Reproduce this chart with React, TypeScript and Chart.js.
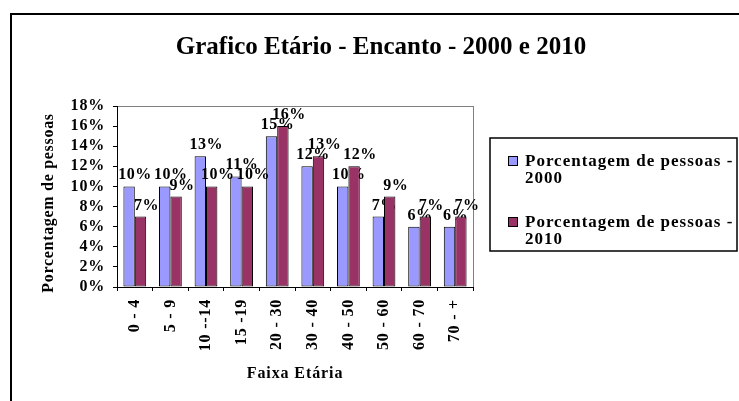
import React, { useEffect, useRef } from 'react';
import { Chart, registerables } from 'chart.js';

Chart.register(...registerables);

const titleText = 'Grafico Etário - Encanto - 2000 e 2010';
const xAxisTitle = 'Faixa Etária';
const yAxisTitle = 'Porcentagem de pessoas';
const categories = ['0 - 4', '5 - 9', '10 --14', '15 -19', '20 - 30', '30 - 40', '40 - 50', '50 - 60', '60 - 70', '70 - +'];
const seriesNames = ['Porcentagem de pessoas - 2000', 'Porcentagem de pessoas - 2010'];
const legendLines = [['Porcentagem de pessoas -', '2000'], ['Porcentagem de pessoas -', '2010']];
const values2000 = [10, 10, 13, 11, 15, 12, 10, 7, 6, 6];
const values2010 = [7, 9, 10, 10, 16, 13, 12, 9, 7, 7];
const yMin = 0;
const yMax = 18;
const yStep = 2;
const colors = ['#9999FF', '#993366'];

const FONT = '"Liberation Serif", "Times New Roman", serif';

function drawLabels(chart: any, idx: number) {
  const ctx = chart.ctx;
  const meta = chart.getDatasetMeta(idx);
  const data = chart.data.datasets[idx].data as number[];
  ctx.save();
  ctx.font = `bold 16px ${FONT}`;
  (ctx as any).letterSpacing = '0.5px';
  ctx.fillStyle = '#000';
  ctx.textAlign = 'center';
  ctx.textBaseline = 'alphabetic';
  meta.data.forEach((el: any, j: number) => {
    ctx.fillText(`${data[j]}%`, el.x + 6, el.y - 7);
  });
  ctx.restore();
}

const decor = {
  id: 'decor',
  beforeDraw(chart: any) {
    const { ctx, chartArea: a } = chart;
    ctx.save();
    ctx.fillStyle = '#fff';
    ctx.fillRect(0, 0, chart.width, chart.height);
    ctx.strokeStyle = '#000';
    ctx.lineWidth = 2;
    ctx.strokeRect(11, 14, chart.width + 20, chart.height + 20);
    ctx.strokeStyle = '#808080';
    ctx.lineWidth = 1;
    ctx.strokeRect(a.left + 0.5, a.top + 0.5, a.right - a.left, a.bottom - a.top);
    ctx.fillStyle = '#000';
    ctx.font = `bold 25px ${FONT}`;
    ctx.textAlign = 'center';
    ctx.textBaseline = 'alphabetic';
    ctx.fillText(titleText, 381, 54);
    ctx.font = `bold 16px ${FONT}`;
    (ctx as any).letterSpacing = '0.9px';
    ctx.fillText(xAxisTitle, (a.left + a.right) / 2, 378);
    ctx.translate(53, 203);
    ctx.rotate(-Math.PI / 2);
    (ctx as any).letterSpacing = '0.7px';
    ctx.fillText(yAxisTitle, 0, 0);
    ctx.restore();
    (ctx as any).letterSpacing = '0.8px';
  },
  beforeDatasetsDraw(chart: any) {
    drawLabels(chart, 0);
  },
  afterDatasetsDraw(chart: any) {
    drawLabels(chart, 1);
  },
  afterDraw(chart: any) {
    const ctx = chart.ctx;
    ctx.save();
    (ctx as any).letterSpacing = '0px';
    ctx.strokeStyle = '#000';
    ctx.lineWidth = 1.5;
    ctx.strokeRect(490, 138, 247, 113);
    ctx.font = `bold 17px ${FONT}`;
    (ctx as any).letterSpacing = '1px';
    ctx.textAlign = 'left';
    ctx.textBaseline = 'alphabetic';
    const baselines = [[166, 183], [227, 244]];
    legendLines.forEach((lines, i) => {
      const b = baselines[i];
      ctx.fillStyle = chart.data.datasets[i].backgroundColor;
      ctx.fillRect(508.5, b[0] - 9.5, 9, 9);
      ctx.lineWidth = 1;
      ctx.strokeStyle = '#000';
      ctx.strokeRect(508.5, b[0] - 9.5, 9, 9);
      ctx.fillStyle = '#000';
      lines.forEach((t, k) => ctx.fillText(t, 525, b[k]));
    });
    ctx.restore();
  },
};

export default function App() {
  const ref = useRef<HTMLCanvasElement>(null);
  useEffect(() => {
    if (!ref.current) return;
    const chart = new Chart(ref.current, {
      type: 'bar',
      data: {
        labels: categories,
        datasets: [
          { label: seriesNames[0], data: values2000, backgroundColor: colors[0], borderColor: '#000', borderWidth: 1, borderSkipped: false },
          { label: seriesNames[1], data: values2010, backgroundColor: colors[1], borderColor: '#000', borderWidth: 1, borderSkipped: false },
        ],
      },
      options: {
        responsive: false,
        animation: false,
        devicePixelRatio: 1,
        layout: { padding: { top: 106, right: 266, bottom: 0, left: 0 } },
        datasets: { bar: { categoryPercentage: 0.64, barPercentage: 1 } },
        plugins: { legend: { display: false }, tooltip: { enabled: false }, title: { display: false } },
        scales: {
          x: {
            afterFit: (s: any) => { s.height = 114; },
            grid: { display: true, drawOnChartArea: false, drawTicks: true, tickLength: 4, color: '#000', lineWidth: 1 },
            border: { display: true, color: '#000', width: 1 },
            ticks: { autoSkip: false, minRotation: 90, maxRotation: 90, padding: 8, color: '#000', font: { family: FONT, size: 16, weight: 'bold' } },
          },
          y: {
            min: yMin,
            max: yMax,
            afterFit: (s: any) => { s.width = 117; },
            grid: { display: true, drawOnChartArea: false, drawTicks: true, tickLength: 4, color: '#000', lineWidth: 1 },
            border: { display: true, color: '#000', width: 1 },
            ticks: { autoSkip: false, stepSize: yStep, padding: 8, color: '#000', font: { family: FONT, size: 16, weight: 'bold' }, callback: (v: any) => `${v}%` },
          },
        },
      },
      plugins: [decor],
    });
    return () => chart.destroy();
  }, []);
  return (
    <div style={{ position: 'fixed', left: 0, top: 0, width: 739, height: 401, background: '#fff' }}>
      <canvas ref={ref} width={739} height={401} style={{ display: 'block' }} />
    </div>
  );
}
